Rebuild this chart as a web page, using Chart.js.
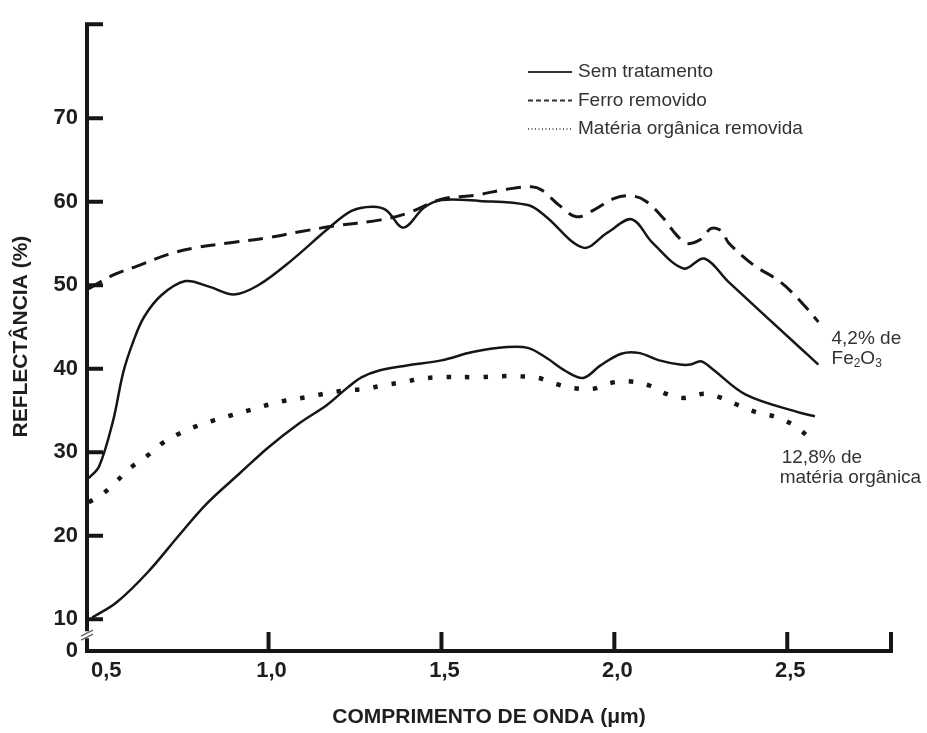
<!DOCTYPE html>
<html>
<head>
<meta charset="utf-8">
<script src="https://cdn.jsdelivr.net/npm/chart.js@4.4.0/dist/chart.umd.min.js"></script>
<style>
    html, body { margin: 0; padding: 0; background: #fff; }
    #wrap { width: 927px; height: 733px; }
</style>
</head>
<body>
<div id="wrap"><canvas id="reflectancia" width="927" height="733"></canvas></div>
<script>
// Solo com 4,2% de Fe2O3 - sem tratamento
const soloFerroX = [0.48, 0.51, 0.55, 0.58, 0.61, 0.64, 0.69, 0.76, 0.83, 0.90, 0.97, 1.07, 1.17, 1.24, 1.30, 1.34,
    1.39, 1.45, 1.50, 1.61, 1.75, 1.80, 1.91, 1.98, 2.05, 2.11, 2.20, 2.26, 2.33, 2.54, 2.59];
const soloFerroY = [26.9, 28.3, 33.7, 39.6, 43.4, 46.2, 48.8, 50.5, 49.8, 48.9, 50.0, 53.1, 56.7, 58.9, 59.4, 59.0,
    56.9, 59.3, 60.2, 60.1, 59.6, 58.3, 54.5, 56.3, 57.9, 55.1, 52.0, 53.2, 50.4, 42.4, 40.5];

// Mesmo solo com o ferro removido
const ferroRemovidoX = [0.48, 0.55, 0.62, 0.71, 0.79, 0.89, 1.00, 1.09, 1.19, 1.32, 1.40, 1.50, 1.60, 1.69, 1.76, 1.79,
    1.84, 1.89, 1.94, 2.00, 2.05, 2.09, 2.14, 2.18, 2.21, 2.25, 2.28, 2.31, 2.33, 2.40, 2.48, 2.54, 2.59];
const ferroRemovidoY = [49.6, 51.2, 52.3, 53.7, 54.5, 55.1, 55.7, 56.4, 57.1, 57.8, 58.6, 60.3, 60.8, 61.5, 61.8, 61.4,
    59.6, 58.2, 59.0, 60.4, 60.7, 60.1, 58.1, 56.0, 55.0, 55.5, 56.8, 56.5, 55.1, 52.5, 50.4, 48.0, 45.6];

// Solo com 12,8% de matéria orgânica - sem tratamento
const soloOrganicoX = [0.49, 0.56, 0.65, 0.74, 0.82, 0.92, 1.00, 1.09, 1.17, 1.23, 1.27, 1.32, 1.40, 1.50, 1.59, 1.69,
    1.75, 1.80, 1.86, 1.91, 1.96, 2.02, 2.07, 2.13, 2.19, 2.22, 2.25, 2.28, 2.38, 2.54, 2.58];
const soloOrganicoY = [10.2, 12.0, 15.6, 20.0, 23.8, 27.6, 30.6, 33.5, 35.7, 37.8, 39.0, 39.8, 40.4, 41.0, 42.0, 42.6,
    42.5, 41.4, 39.7, 38.9, 40.4, 41.8, 41.9, 41.0, 40.5, 40.5, 40.9, 40.1, 36.9, 34.7, 34.3];

// Mesmo solo com a matéria orgânica removida
const organicaRemovidaX = [0.48, 0.52, 0.56, 0.60, 0.65, 0.69, 0.74, 0.79, 0.84, 0.89, 0.95, 1.00, 1.05, 1.11, 1.16,
    1.22, 1.28, 1.33, 1.39, 1.44, 1.50, 1.61, 1.66, 1.72, 1.78, 1.83, 1.88, 1.94, 1.99, 2.04, 2.10, 2.15, 2.20, 2.26,
    2.31, 2.36, 2.41, 2.47, 2.52, 2.56];
const organicaRemovidaY = [24.0, 25.0, 26.5, 28.1, 29.6, 31.0, 32.2, 33.1, 33.8, 34.4, 35.1, 35.7, 36.2, 36.6, 37.0,
    37.4, 37.6, 38.0, 38.4, 38.8, 39.0, 39.0, 39.1, 39.1, 38.9, 38.2, 37.7, 37.6, 38.3, 38.5, 38.0, 37.0, 36.5, 37.0,
    36.5, 35.6, 34.8, 34.2, 33.2, 31.9];

const yTicks = [10, 20, 30, 40, 50, 60, 70];
const xTicks = [0.5, 1.0, 1.5, 2.0, 2.5];
const legendLabels = ['Sem tratamento', 'Ferro removido', 'Matéria orgânica removida'];

const X_MIN = 0.475, X_MAX = 2.8;
const Y_MIN = 6.2, Y_MAX = 81.5;

const INK = '#161616';
const TEXT = '#333';
const FONT = '"Liberation Sans", Arial, sans-serif';

const pontos = (xs, ys) => xs.map((x, i) => ({ x: x, y: ys[i] }));
const virgula = (v) => v.toFixed(1).replace('.', ',');

const linhaBase = {
    borderColor: INK,
    backgroundColor: INK,
    pointRadius: 0,
    fill: false,
    tension: 0.35
};

// eixos desenhados à mão: ticks para dentro e interrupção no eixo y
const eixos = {
    id: 'eixos',
    afterDraw(chart) {
        const { ctx, chartArea: a, scales: { x, y } } = chart;
        const yBreak = y.getPixelForValue((Y_MIN + yTicks[0]) / 2);

        ctx.save();
        ctx.strokeStyle = INK;
        ctx.lineWidth = 4;
        ctx.lineCap = 'butt';
        ctx.lineJoin = 'miter';

        ctx.beginPath();
        ctx.moveTo(a.left + 16, a.top + 2);
        ctx.lineTo(a.left, a.top + 2);
        ctx.lineTo(a.left, yBreak - 4);
        ctx.moveTo(a.left, yBreak + 3);
        ctx.lineTo(a.left, a.bottom);
        ctx.lineTo(a.right, a.bottom);
        ctx.lineTo(a.right, a.bottom - 19);
        ctx.stroke();

        ctx.beginPath();
        yTicks.forEach(v => {
            const py = y.getPixelForValue(v);
            ctx.moveTo(a.left, py);
            ctx.lineTo(a.left + 16, py);
        });
        xTicks.slice(1).forEach(v => {
            const px = x.getPixelForValue(v);
            ctx.moveTo(px, a.bottom);
            ctx.lineTo(px, a.bottom - 19);
        });
        ctx.stroke();

        // marca da interrupção
        ctx.strokeStyle = '#666';
        ctx.lineWidth = 1.5;
        ctx.beginPath();
        ctx.moveTo(a.left - 6, yBreak + 1);
        ctx.lineTo(a.left + 6, yBreak - 5);
        ctx.moveTo(a.left - 6, yBreak + 5);
        ctx.lineTo(a.left + 6, yBreak - 1);
        ctx.stroke();

        // rótulos do eixo x (o primeiro afastado do eixo y)
        ctx.fillStyle = '#1e1e1e';
        ctx.font = 'bold 22px ' + FONT;
        ctx.textAlign = 'center';
        ctx.textBaseline = 'middle';
        xTicks.forEach(v => {
            const txt = virgula(v);
            const w = ctx.measureText(txt).width;
            const px = Math.max(x.getPixelForValue(v) + 3, a.left + w / 2 + 4);
            ctx.fillText(txt, px, a.bottom + 20);
        });
        ctx.restore();
    }
};

// legenda no canto superior direito
const legenda = {
    id: 'legenda',
    afterDraw(chart) {
        const { ctx } = chart;
        const x0 = 528, x1 = 572, y0 = 72, passo = 28.5;
        const estilos = [
            { dash: [], width: 2 },
            { dash: [5, 3], width: 2 },
            { dash: [1, 2.5], width: 1.5 }
        ];
        ctx.save();
        ctx.font = '19px ' + FONT;
        ctx.textAlign = 'left';
        ctx.textBaseline = 'middle';
        legendLabels.forEach((label, i) => {
            const yy = y0 + i * passo;
            ctx.strokeStyle = '#333';
            ctx.lineWidth = estilos[i].width;
            ctx.setLineDash(estilos[i].dash);
            ctx.beginPath();
            ctx.moveTo(x0, yy);
            ctx.lineTo(x1, yy);
            ctx.stroke();
            ctx.fillStyle = TEXT;
            ctx.fillText(label, x1 + 6, yy);
        });
        ctx.restore();
    }
};

// identificação das duas amostras ao fim das curvas
const notas = {
    id: 'notas',
    afterDraw(chart) {
        const { ctx, scales: { x, y } } = chart;
        ctx.save();
        ctx.fillStyle = TEXT;
        ctx.textAlign = 'left';
        ctx.textBaseline = 'middle';
        ctx.font = '19px ' + FONT;

        let px = x.getPixelForValue(2.628);
        ctx.fillText('4,2% de', px, y.getPixelForValue(43.6));

        // Fe2O3 com índices
        const py = y.getPixelForValue(41.2);
        const partes = [['Fe', false], ['2', true], ['O', false], ['3', true]];
        partes.forEach(([t, sub]) => {
            ctx.font = (sub ? '12px ' : '19px ') + FONT;
            ctx.fillText(t, px, sub ? py + 5 : py);
            px += ctx.measureText(t).width;
        });

        ctx.font = '19px ' + FONT;
        ctx.fillText('12,8% de', x.getPixelForValue(2.484), y.getPixelForValue(29.4));
        ctx.fillText('matéria orgânica', x.getPixelForValue(2.478), y.getPixelForValue(27.0));
        ctx.restore();
    }
};

new Chart(document.getElementById('reflectancia'), {
    type: 'line',
    data: {
        datasets: [
            Object.assign({ label: 'Sem tratamento (4,2% de Fe2O3)', data: pontos(soloFerroX, soloFerroY),
                borderWidth: 2.5 }, linhaBase),
            Object.assign({ label: 'Ferro removido', data: pontos(ferroRemovidoX, ferroRemovidoY),
                borderWidth: 3, borderDash: [15, 9] }, linhaBase),
            Object.assign({ label: 'Sem tratamento (12,8% de matéria orgânica)', data: pontos(soloOrganicoX, soloOrganicoY),
                borderWidth: 2.5 }, linhaBase),
            Object.assign({ label: 'Matéria orgânica removida', data: pontos(organicaRemovidaX, organicaRemovidaY),
                borderWidth: 4.5, borderDash: [4.5, 14], borderCapStyle: 'butt' }, linhaBase)
        ]
    },
    options: {
        responsive: false,
        animation: false,
        layout: { padding: { top: 18, right: 36, left: 0, bottom: 0 } },
        plugins: {
            legend: { display: false },
            tooltip: { enabled: false }
        },
        scales: {
            x: {
                type: 'linear',
                min: X_MIN,
                max: X_MAX,
                afterFit(scale) { scale.height = 82; },
                grid: { display: false, drawTicks: false },
                border: { display: false },
                ticks: { display: false },
                title: {
                    display: true,
                    text: 'COMPRIMENTO DE ONDA (μm)',
                    color: '#1e1e1e',
                    font: { family: FONT, size: 21, weight: 'bold' },
                    padding: { top: 0, bottom: 3 }
                }
            },
            y: {
                type: 'linear',
                min: Y_MIN,
                max: Y_MAX,
                afterBuildTicks(scale) {
                    scale.ticks = [Y_MIN].concat(yTicks).map(v => ({ value: v }));
                },
                afterFit(scale) { scale.width = 87; },
                grid: { display: false, drawTicks: false },
                border: { display: false },
                ticks: {
                    color: '#1e1e1e',
                    padding: 9,
                    font: { family: FONT, size: 22, weight: 'bold' },
                    callback: (v, i) => i === 0 ? '0' : String(v)
                },
                title: {
                    display: true,
                    text: 'REFLECTÂNCIA (%)',
                    color: '#1e1e1e',
                    font: { family: FONT, size: 21, weight: 'bold' },
                    padding: { top: 9, bottom: 0 }
                }
            }
        }
    },
    plugins: [eixos, legenda, notas]
});
</script>
</body>
</html>
